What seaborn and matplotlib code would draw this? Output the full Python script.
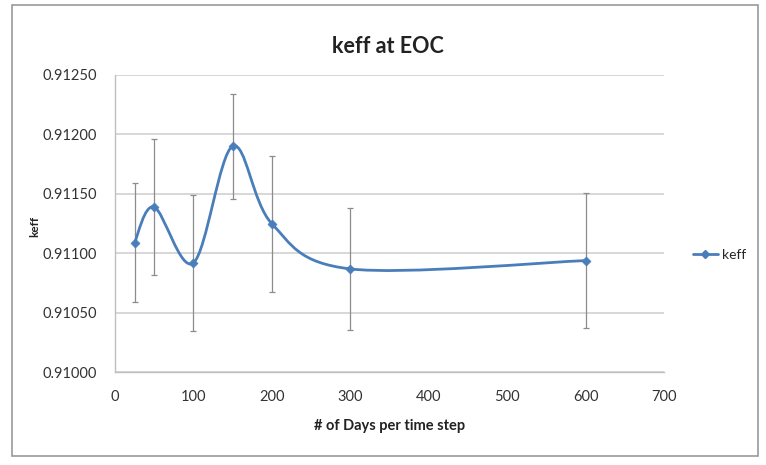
import numpy as np
import pandas as pd
import seaborn as sns
import matplotlib
matplotlib.use('Agg')
import matplotlib.pyplot as plt
from matplotlib.path import Path
from matplotlib.patches import PathPatch, Rectangle
from matplotlib.lines import Line2D
from matplotlib.ticker import MultipleLocator

# values
days = [25, 50, 100, 150, 200, 300, 600]
keff = [0.91109, 0.91139, 0.91092, 0.91190, 0.91125, 0.91087, 0.91094]
keff_err = [0.00050, 0.00057, 0.00057, 0.00044, 0.00057, 0.00051, 0.00057]
x_ticks = [0, 100, 200, 300, 400, 500, 600, 700]
y_ticks = [0.91000, 0.91050, 0.91100, 0.91150, 0.91200, 0.91250]

df = pd.DataFrame({'days': days, 'keff': keff, 'err': keff_err})

sns.set_theme(style='white')
plt.rcParams['font.family'] = ['Lato', 'DejaVu Sans']

blue = '#4a7ebb'
fig = plt.figure(figsize=(7.66, 4.65), dpi=100)
ax = fig.add_axes([0.150, 0.199, 0.717, 0.640])

# error bars
ax.errorbar(df['days'], df['keff'], yerr=df['err'], fmt='none',
            ecolor='#8c8c8c', elinewidth=0.9, capsize=2, capthick=0.9, zorder=2)

# smoothed line like the spreadsheet's "smoothed line" option
pts = np.column_stack([df['days'], df['keff']])
n = len(pts)
verts = [pts[0]]
codes = [Path.MOVETO]
for i in range(n - 1):
    p_prev = pts[max(i - 1, 0)]
    p0 = pts[i]
    p1 = pts[i + 1]
    p_next = pts[min(i + 2, n - 1)]
    c1 = p0 + (p1 - p_prev) / 6
    c2 = p1 - (p_next - p0) / 6
    verts += [c1, c2, p1]
    codes += [Path.CURVE4] * 3
ax.add_patch(PathPatch(Path(verts, codes), facecolor='none', edgecolor=blue,
                       lw=2, zorder=3))

sns.scatterplot(data=df, x='days', y='keff', marker='D', s=22, color=blue,
                edgecolor=blue, ax=ax, zorder=4, legend=False)

ax.set_xlim(0, 700)
ax.set_ylim(0.91, 0.9125)
ax.set_xticks(x_ticks)
ax.set_yticks(y_ticks)
ax.set_yticklabels([f'{v:.5f}' for v in y_ticks])
ax.xaxis.set_minor_locator(MultipleLocator(20))
ax.grid(axis='y', color='#d4d4d4', lw=1.3)
ax.set_axisbelow(True)
for s in ['top', 'right']:
    ax.spines[s].set_visible(False)
for s in ['left', 'bottom']:
    ax.spines[s].set_color('#bfbfbf')
    ax.spines[s].set_linewidth(1)
ax.tick_params(axis='x', which='major', direction='inout', length=7, width=0.8,
               color='#b0b0b0', labelsize=10.5, pad=9, labelcolor='#333333')
ax.tick_params(axis='x', which='minor', direction='inout', length=4, width=0.8,
               color='#c0c0c0')
ax.tick_params(axis='y', length=0, labelsize=10.5, pad=13, labelcolor='#333333')
ax.set_xlabel('')
ax.set_ylabel('')

fig.text(0.506, 0.899, 'keff at EOC', ha='center', va='center',
         fontsize=15.5, fontweight='bold', color='#222222')
fig.text(0.509, 0.084, '# of Days per time step', ha='center', va='center',
         fontsize=10.5, fontweight='bold', color='#222222')
fig.text(0.046, 0.512, 'keff', ha='center', va='center', rotation=90,
         fontsize=8.5, fontweight='bold', color='#222222')

handle = Line2D([], [], color=blue, lw=2, marker='D', markersize=4)
fig.legend([handle], ['keff'], loc='center left', bbox_to_anchor=(0.895, 0.452),
           frameon=False, handlelength=1.8, handletextpad=0.3, borderpad=0,
           fontsize=10)

fig.patches.append(Rectangle((0.0157, 0.0194), 0.9739, 0.9699, transform=fig.transFigure,
                             fill=False, edgecolor='#9a9a9a', lw=1.2))

fig.savefig('out.png', dpi=100)
